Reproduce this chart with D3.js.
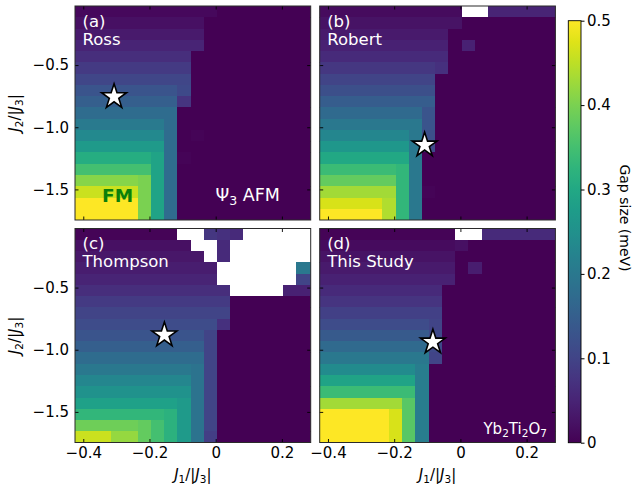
<!DOCTYPE html>
<html><head><meta charset="utf-8">
<script src="https://cdn.jsdelivr.net/npm/d3@7"></script>
<style>
body{margin:0;background:#fff;}
svg{font-family:"DejaVu Sans",sans-serif;}
</style></head>
<body><svg id="chart" width="632" height="489"></svg>
<script>
// ---------- data ----------
const J1_grid = [-0.416,-0.376,-0.336,-0.296,-0.256,-0.216,-0.176,-0.136,-0.096,-0.056,-0.016,0.024,0.064,0.104,0.144,0.184,0.224,0.264,0.304];
const J1_grid_d = [-0.436,-0.396,-0.356,-0.316,-0.276,-0.236,-0.196,-0.156,-0.116,-0.076,-0.036,0.004,0.044,0.084,0.124,0.164,0.204,0.244,0.284];
const J2_grid = [-0.070,-0.161,-0.252,-0.342,-0.433,-0.524,-0.614,-0.705,-0.795,-0.886,-0.977,-1.067,-1.158,-1.248,-1.339,-1.430,-1.520,-1.611,-1.701];
const N = null;
const gapRoss = [
[.01,.01,.01,.01,.01,.01,.01,.01,.01,.01,.01,0,0,0,0,0,0,0,0],
[.02,.02,.02,.02,.02,.02,.02,.02,.02,.02,0,0,0,0,0,0,0,0,0],
[.035,.035,.035,.035,.035,.035,.035,.035,.035,.035,0,0,0,0,0,0,0,0,0],
[.05,.05,.05,.05,.05,.05,.05,.05,.05,.05,0,0,0,0,0,0,0,0,0],
[.065,.065,.065,.065,.065,.065,.065,.065,.065,0,0,0,0,0,0,0,0,0,0],
[.085,.085,.085,.085,.085,.085,.085,.085,.085,0,0,0,0,0,0,0,0,0,0],
[.105,.105,.105,.105,.105,.105,.105,.105,.105,0,0,0,0,0,0,0,0,0,0],
[.13,.13,.13,.13,.13,.13,.13,.13,.11,0,0,0,0,0,0,0,0,0,0],
[.15,.15,.15,.15,.15,.15,.15,.15,.075,0,0,0,0,0,0,0,0,0,0],
[.175,.175,.175,.175,.175,.175,.175,.175,0,0,0,0,0,0,0,0,0,0,0],
[.205,.205,.205,.205,.205,.205,.205,.175,0,0,0,0,0,0,0,0,0,0,0],
[.235,.235,.235,.235,.235,.235,.235,.175,0,.005,0,0,0,0,0,0,0,0,0],
[.27,.27,.27,.27,.27,.27,.27,.175,0,0,0,0,0,0,0,0,0,0,0],
[.31,.31,.31,.31,.31,.31,.29,.175,.005,0,0,0,0,0,0,0,0,0,0],
[.35,.35,.35,.35,.35,.35,.29,.175,0,0,0,0,0,0,0,0,0,0,0],
[.41,.41,.41,.41,.41,.40,.29,.175,0,0,0,0,0,0,0,0,0,0,0],
[.46,.46,.46,.46,.46,.40,.29,.175,0,0,0,0,0,0,0,0,0,0,0],
[.5,.5,.5,.5,.5,.40,.29,.175,0,0,0,0,0,0,0,0,0,0,0],
[.5,.5,.5,.5,.5,.40,.29,.175,0,0,0,0,0,0,0,0,0,0,0]];
const gapRobert = [
[.015,.015,.015,.015,.015,.015,.015,.015,.015,.015,.015,N,N,.05,.05,.05,.05,.05,.05],
[.025,.025,.025,.025,.025,.025,.025,.025,.025,.025,.025,0,0,0,0,0,0,0,0],
[.035,.035,.035,.035,.035,.035,.035,.035,.035,.035,0,0,0,0,0,0,0,0,0],
[.045,.045,.045,.045,.045,.045,.045,.045,.045,.045,0,.045,0,0,0,0,0,0,0],
[.06,.06,.06,.06,.06,.06,.06,.06,.06,.06,0,0,0,0,0,0,0,0,0],
[.08,.08,.08,.08,.08,.08,.08,.08,.08,.07,0,0,0,0,0,0,0,0,0],
[.10,.10,.10,.10,.10,.10,.10,.10,.10,0,0,0,0,0,0,0,0,0,0],
[.12,.12,.12,.12,.12,.12,.12,.12,.12,0,0,0,0,0,0,0,0,0,0],
[.145,.145,.145,.145,.145,.145,.145,.145,.145,0,0,0,0,0,0,0,0,0,0],
[.17,.17,.17,.17,.17,.17,.17,.17,.13,0,0,0,0,0,0,0,0,0,0],
[.2,.2,.2,.2,.2,.2,.2,.2,.13,0,0,0,0,0,0,0,0,0,0],
[.23,.23,.23,.23,.23,.23,.23,.2,.12,0,0,0,0,0,0,0,0,0,0],
[.265,.265,.265,.265,.265,.265,.265,.2,.11,0,0,0,0,0,0,0,0,0,0],
[.30,.30,.30,.30,.30,.30,.30,.2,0,0,0,0,0,0,0,0,0,0,0],
[.34,.34,.34,.34,.34,.34,.33,.2,0,0,0,0,0,0,0,0,0,0,0],
[.38,.38,.38,.38,.38,.38,.33,.2,0,0,0,0,0,0,0,0,0,0,0],
[.43,.43,.43,.43,.43,.43,.33,.2,.005,0,0,0,0,0,0,0,0,0,0],
[.47,.47,.47,.47,.47,.44,.33,.2,0,0,0,0,0,0,0,0,0,0,0],
[.5,.5,.5,.5,.5,.44,.33,.2,0,0,0,0,0,0,0,0,0,0,0]];
const gapThompson = [
[.005,.005,.005,.005,.005,.005,.005,.005,N,N,.08,.07,.06,N,N,N,N,N,N],
[.02,.02,.02,.02,.02,.02,.02,.02,.02,N,N,.06,N,N,N,N,N,N,N],
[.03,.03,.03,.03,.03,.03,.03,.03,.03,.03,N,.06,N,N,N,N,N,N,N],
[.04,.04,.04,.04,.04,.04,.04,.04,.04,.04,.04,N,N,N,N,N,N,.2,.2],
[.05,.05,.05,.05,.05,.05,.05,.05,.05,.05,.05,N,N,N,N,N,N,.1,.1],
[.065,.065,.065,.065,.065,.065,.065,.065,.065,.065,.065,.065,N,N,N,N,.045,.045,.045],
[.085,.085,.085,.085,.085,.085,.085,.085,.085,.085,.085,.085,0,0,0,0,0,0,0],
[.10,.10,.10,.10,.10,.10,.10,.10,.10,.10,.10,.10,0,0,0,0,0,0,0],
[.115,.115,.115,.115,.115,.115,.115,.115,.115,.115,.115,.07,0,0,0,0,0,0,0],
[.13,.13,.13,.13,.13,.13,.13,.13,.13,.13,.10,0,0,0,0,0,0,0,0],
[.15,.15,.15,.15,.15,.15,.15,.15,.15,.15,.10,0,0,0,0,0,0,0,0],
[.175,.175,.175,.175,.175,.175,.175,.175,.175,.175,.10,0,0,0,0,0,0,0,0],
[.2,.2,.2,.2,.2,.2,.2,.2,.2,.19,.10,0,0,0,0,0,0,0,0],
[.23,.23,.23,.23,.23,.23,.23,.23,.23,.19,.10,0,0,0,0,0,0,0,0],
[.255,.255,.255,.255,.255,.255,.255,.255,.255,.19,.10,0,0,0,0,0,0,0,0],
[.285,.285,.285,.285,.285,.285,.285,.285,.27,.19,.10,0,0,0,0,0,0,0,0],
[.33,.33,.33,.33,.33,.33,.33,.32,.27,.19,.10,0,0,0,0,0,0,0,0],
[.39,.39,.39,.39,.39,.38,.35,.32,.27,.19,.10,0,0,0,0,0,0,0,0],
[.46,.46,.46,.42,.42,.38,.35,.32,.27,.19,.09,0,0,0,0,0,0,0,0]];
const gapThisStudy = [
[.005,.005,.005,.005,.005,.005,.005,.005,.005,.005,.005,N,N,.06,.06,.06,.06,.06,.06],
[.015,.015,.015,.015,.015,.015,.015,.015,.015,.015,.015,.02,0,0,0,0,0,0,0],
[.025,.025,.025,.025,.025,.025,.025,.025,.025,.025,.025,0,0,0,0,0,0,0,0],
[.035,.035,.035,.035,.035,.035,.035,.035,.035,.035,.035,0,.04,0,0,0,0,0,0],
[.045,.045,.045,.045,.045,.045,.045,.045,.045,.045,.045,0,0,0,0,0,0,0,0],
[.06,.06,.06,.06,.06,.06,.06,.06,.06,.06,0,0,0,0,0,0,0,0,0],
[.075,.075,.075,.075,.075,.075,.075,.075,.075,.075,0,0,0,0,0,0,0,0,0],
[.095,.095,.095,.095,.095,.095,.095,.095,.095,.095,0,0,0,0,0,0,0,0,0],
[.115,.115,.115,.115,.115,.115,.115,.115,.115,.10,0,0,0,0,0,0,0,0,0],
[.14,.14,.14,.14,.14,.14,.14,.14,.14,.11,0,0,0,0,0,0,0,0,0],
[.17,.17,.17,.17,.17,.17,.17,.17,.17,.11,0,0,0,0,0,0,0,0,0],
[.2,.2,.2,.2,.2,.2,.2,.2,.2,.10,0,0,0,0,0,0,0,0,0],
[.24,.24,.24,.24,.24,.24,.24,.24,.21,0,0,0,0,0,0,0,0,0,0],
[.29,.29,.29,.29,.29,.29,.29,.29,.21,0,0,0,0,0,0,0,0,0,0],
[.34,.34,.34,.34,.34,.34,.34,.34,.21,0,0,0,0,0,0,0,0,0,0],
[.43,.43,.43,.43,.43,.43,.43,.37,.21,0,0,0,0,0,0,0,0,0,0],
[.5,.5,.5,.5,.5,.5,.47,.37,.21,0,0,0,0,0,0,0,0,0,0],
[.5,.5,.5,.5,.5,.5,.47,.37,.21,0,0,0,0,0,0,0,0,0,0],
[.5,.5,.5,.5,.5,.5,.47,.37,.21,0,0,0,0,0,0,0,0,0,0]];
const panelTags = ["(a)","(b)","(c)","(d)"];
const panelNames = ["Ross","Robert","Thompson","This Study"];
const starJ1 = [-0.307,-0.108,-0.155,-0.083];
const starJ2 = [-0.755,-1.144,-0.882,-0.939];
const xTicks = [-0.4,-0.2,0,0.2];
const yTicks = [-0.5,-1.0,-1.5];
const cbTicks = [0,0.1,0.2,0.3,0.4,0.5];

// ---------- layout ----------
const svg = d3.select("#chart");
const W = 235.7, H = 214;
const lefts = [75, 319.7], tops = [6, 228.5];
const xDom = [-0.425, 0.287], yDom = [-1.746, -0.025];
const dX = 0.04, dY = 0.0906;
const color = d3.scaleSequential(d3.interpolateViridis).domain([0, 0.5]);
const fmt = d => d === 0 ? "0" : d3.format(".1f")(d);

const panels = [
  {data: gapRoss, j1: J1_grid, col: 0, row: 0},
  {data: gapRobert, j1: J1_grid, col: 1, row: 0},
  {data: gapThompson, j1: J1_grid, col: 0, row: 1},
  {data: gapThisStudy, j1: J1_grid_d, col: 1, row: 1}
];
const defs = svg.append("defs");

panels.forEach((p, pi) => {
  const x0 = lefts[p.col], y0 = tops[p.row];
  const xs = d3.scaleLinear().domain(xDom).range([x0, x0 + W]);
  const ys = d3.scaleLinear().domain(yDom).range([y0 + H, y0]);
  defs.append("clipPath").attr("id", "clip" + pi)
    .append("rect").attr("x", x0).attr("y", y0).attr("width", W).attr("height", H);
  const g = svg.append("g").attr("clip-path", `url(#clip${pi})`).attr("shape-rendering", "crispEdges");
  const cells = [];
  p.data.forEach((rowv, i) => rowv.forEach((v, k) => cells.push({j1: p.j1[k], j2: J2_grid[i], v})));
  g.selectAll("rect").data(cells).join("rect")
    .attr("x", d => xs(d.j1 - dX / 2))
    .attr("y", d => ys(d.j2 + dY / 2))
    .attr("width", d => xs(d.j1 + dX / 2) - xs(d.j1 - dX / 2) + 0.3)
    .attr("height", d => ys(d.j2 - dY / 2) - ys(d.j2 + dY / 2) + 0.3)
    .attr("fill", d => d.v == null ? "#ffffff" : color(d.v));

  // axes (inward ticks all around)
  const tk = 3.5;
  const ab = svg.append("g").attr("transform", `translate(0,${y0 + H})`)
    .call(d3.axisBottom(xs).tickValues(xTicks).tickSize(-tk).tickPadding(5)
      .tickFormat(p.row === 1 ? fmt : () => ""));
  const at = svg.append("g").attr("transform", `translate(0,${y0})`)
    .call(d3.axisTop(xs).tickValues(xTicks).tickSize(-tk).tickFormat(() => ""));
  const al = svg.append("g").attr("transform", `translate(${x0},0)`)
    .call(d3.axisLeft(ys).tickValues(yTicks).tickSize(-tk).tickPadding(6)
      .tickFormat(p.col === 0 ? d => d3.format(".1f")(d) : () => ""));
  const ar = svg.append("g").attr("transform", `translate(${x0 + W},0)`)
    .call(d3.axisRight(ys).tickValues(yTicks).tickSize(-tk).tickFormat(() => ""));
  [ab, at, al, ar].forEach(a => {
    a.select(".domain").remove();
    a.selectAll("line").attr("stroke", "#000").attr("stroke-width", 0.9);
    a.selectAll("text").attr("font-size", 15).attr("fill", "#000").attr("font-family", "DejaVu Sans");
  });
  svg.append("rect").attr("x", x0).attr("y", y0).attr("width", W).attr("height", H)
    .attr("fill", "none").attr("stroke", "#2a2a2a").attr("stroke-width", 1);

  // labels
  const t = svg.append("g").attr("fill", "#fff").attr("font-size", 16.5);
  t.append("text").attr("x", x0 + 7.5).attr("y", y0 + 20.5).text(panelTags[pi]);
  t.append("text").attr("x", x0 + 7.5).attr("y", y0 + 38.5).text(panelNames[pi]);

  // star
  svg.append("path")
    .attr("d", d3.symbol(d3.symbolStar, 190)())
    .attr("transform", `translate(${xs(starJ1[pi])},${ys(starJ2[pi])})`)
    .attr("fill", "#fff").attr("stroke", "#000").attr("stroke-width", 1.6).attr("stroke-linejoin", "miter");

  if (pi === 0) {
    svg.append("text").attr("x", x0 + 27).attr("y", y0 + H - 18.5)
      .attr("font-size", 18.5).attr("font-weight", "bold").attr("fill", "#0a7f0a").text("FM");
    const a = svg.append("text").attr("x", x0 + 140.5).attr("y", y0 + H - 19.5)
      .attr("font-size", 17.5).attr("fill", "#fff");
    a.append("tspan").text("Ψ");
    a.append("tspan").attr("font-size", 12.5).attr("dy", 4).text("3");
    a.append("tspan").attr("dy", -4).text(" AFM");
  }
  if (pi === 3) {
    const y = svg.append("text").attr("x", x0 + W - 8.5).attr("y", y0 + H - 8.5)
      .attr("font-size", 15).attr("fill", "#fff").attr("text-anchor", "end");
    y.append("tspan").text("Yb");
    y.append("tspan").attr("font-size", 10.5).attr("dy", 2.5).text("2");
    y.append("tspan").attr("dy", -2.5).text("Ti");
    y.append("tspan").attr("font-size", 10.5).attr("dy", 2.5).text("2");
    y.append("tspan").attr("dy", -2.5).text("O");
    y.append("tspan").attr("font-size", 10.5).attr("dy", 2.5).text("7");
  }
});

// axis titles
function jLabel(sel, a, b) {
  sel.append("tspan").attr("font-style", "italic").text("J");
  sel.append("tspan").attr("font-size", 10.5).attr("dy", 3).text(a);
  sel.append("tspan").attr("dy", -3).text("/|");
  sel.append("tspan").attr("font-style", "italic").text("J");
  sel.append("tspan").attr("font-size", 10.5).attr("dy", 3).text(b);
  sel.append("tspan").attr("dy", -3).text("|");
}
[0, 1].forEach(c => {
  const t = svg.append("text").attr("x", lefts[c] + W / 2).attr("y", 480)
    .attr("text-anchor", "middle").attr("font-size", 15).attr("fill", "#000");
  jLabel(t, "1", "3");
});
[0, 1].forEach(r => {
  const t = svg.append("text").attr("transform", `translate(20,${tops[r] + H / 2}) rotate(-90)`)
    .attr("text-anchor", "middle").attr("font-size", 15).attr("fill", "#000");
  jLabel(t, "2", "3");
});

// colorbar
const cbX = 568.3, cbW = 12.7, cbTop = 20.7, cbBot = 442.7;
const cs = d3.scaleLinear().domain([0, 0.5]).range([cbBot, cbTop]);
const grad = defs.append("linearGradient").attr("id", "cbgrad")
  .attr("x1", 0).attr("y1", 1).attr("x2", 0).attr("y2", 0);
d3.range(0, 1.0001, 0.05).forEach(f => grad.append("stop").attr("offset", f).attr("stop-color", color(f * 0.5)));
svg.append("rect").attr("x", cbX).attr("y", cbTop).attr("width", cbW).attr("height", cbBot - cbTop)
  .attr("fill", "url(#cbgrad)").attr("stroke", "#000").attr("stroke-width", 0.9);
const cax = svg.append("g").attr("transform", `translate(${cbX + cbW},0)`)
  .call(d3.axisRight(cs).tickValues(cbTicks).tickSize(3.5).tickPadding(2.5).tickFormat(fmt));
cax.select(".domain").remove();
cax.selectAll("line").attr("stroke", "#000");
cax.selectAll("text").attr("font-size", 15).attr("fill", "#000").attr("font-family", "DejaVu Sans");
svg.append("text").attr("transform", "translate(619.5,218) rotate(90)")
  .attr("text-anchor", "middle").attr("font-size", 14).attr("fill", "#000").text("Gap size (meV)");
</script></body></html>
